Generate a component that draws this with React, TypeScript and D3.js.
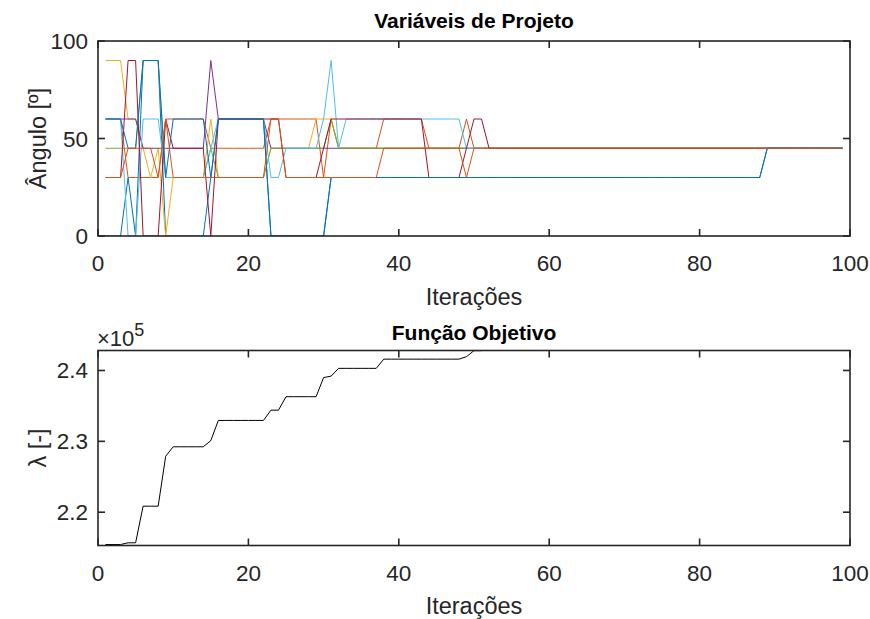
import React from "react";
import * as d3 from "d3";

// Iterations 1..99
const iterations: number[] = Array.from({ length: 99 }, (_, i) => i + 1);

// Design variables (angles, deg) as change points [iteration, value]
const varBlue1: [number, number][] = [[1, 0], [4, 30], [5, 0], [6, 90], [9, 0], [15, 30], [16, 60], [23, 0], [31, 30], [89, 45]];
const varOrange1: [number, number][] = [[1, 60], [4, 30], [9, 60], [15, 45], [23, 60], [30, 30], [31, 60], [32, 45], [38, 60], [44, 45], [49, 60], [50, 45]];
const varYellow1: [number, number][] = [[1, 90], [4, 60], [6, 45], [7, 30], [8, 45], [9, 0], [10, 30], [15, 60], [16, 30], [23, 45], [29, 60], [32, 45]];
const varPurple1: [number, number][] = [[1, 60], [6, 45], [15, 90], [16, 60], [23, 45]];
const varGreen1: [number, number][] = [[1, 45], [6, 90], [9, 30], [15, 45], [16, 30], [23, 45], [31, 60], [32, 45]];
const varLightBlue1: [number, number][] = [[1, 60], [4, 0], [6, 60], [9, 30], [15, 45], [16, 60], [23, 30], [25, 45], [30, 60], [31, 90], [32, 45], [33, 60], [49, 45]];
const varDarkRed1: [number, number][] = [[1, 30], [4, 90], [6, 0], [9, 60], [10, 45], [15, 0], [16, 60], [25, 30], [30, 45], [31, 60], [44, 30], [49, 45], [50, 60], [52, 45]];
const varBlue2: [number, number][] = [[1, 60], [4, 45], [6, 90], [9, 30], [10, 60], [15, 30], [16, 60], [23, 0], [31, 30], [89, 45]];
const varOrange2: [number, number][] = [[1, 30], [4, 45], [8, 30], [9, 60], [10, 30], [23, 60], [25, 30], [38, 45], [49, 30], [50, 45]];

const seriesSteps = [varBlue1, varOrange1, varYellow1, varPurple1, varGreen1, varLightBlue1, varDarkRed1, varBlue2, varOrange2];
const seriesColors = ["#0072BD", "#D95319", "#EDB120", "#7E2F8E", "#77AC30", "#4DBEEE", "#A2142F"];

// Objective function λ (×1e5) as change points [iteration, value]
const lambdaSteps: [number, number][] = [[1, 2.1544], [4, 2.1568], [6, 2.2085], [9, 2.279], [10, 2.2923], [15, 2.301], [16, 2.3295],
  [23, 2.344], [25, 2.363], [30, 2.390], [31, 2.392], [32, 2.403], [38, 2.416], [49, 2.4195], [50, 2.428], [52, 2.44]];

const xTicks = [0, 20, 40, 60, 80, 100];
const yTicksTop = [0, 50, 100];
const yTicksBot = [2.2, 2.3, 2.4];

function expand(steps: [number, number][]): number[] {
  return iterations.map((it) => {
    let v = steps[0][1];
    for (const [s, val] of steps) if (s <= it) v = val;
    return v;
  });
}

const FONT = "'Liberation Sans', Arial, Helvetica, sans-serif";
const AX = "#262626";
const L = 98, R = 850;

export default function App() {
  const x = d3.scaleLinear().domain([0, 100]).range([L, R]);
  const yTop = d3.scaleLinear().domain([0, 100]).range([236, 41]);
  const yBot = d3.scaleLinear().domain([2.153, 2.4282]).range([545.5, 350.5]);

  const lineTop = d3.line<number>().x((_, i) => x(iterations[i])).y((d) => yTop(d));
  const lineBot = d3.line<number>().x((_, i) => x(iterations[i])).y((d) => yBot(d));

  const tk = 7;
  const tickFs = 22.5;
  const labFs = 23.5;
  const titleFs = 21;

  const axesFrame = (y0: number, y1: number, yScale: any, yTicks: number[], fmt: (v: number) => string) => (
    <g>
      <rect x={L} y={y1} width={R - L} height={y0 - y1} fill="none" stroke={AX} strokeWidth={1.6} />
      {xTicks.map((t) => (
        <g key={"x" + t}>
          <line x1={x(t)} x2={x(t)} y1={y0} y2={y0 - tk} stroke={AX} strokeWidth={1.6} />
          <line x1={x(t)} x2={x(t)} y1={y1} y2={y1 + tk} stroke={AX} strokeWidth={1.6} />
          <text x={x(t)} y={y0 + 35} textAnchor="middle" fontSize={tickFs} fill={AX} fontFamily={FONT}>{t}</text>
        </g>
      ))}
      {yTicks.map((t) => (
        <g key={"y" + t}>
          <line x1={L} x2={L + tk} y1={yScale(t)} y2={yScale(t)} stroke={AX} strokeWidth={1.6} />
          <line x1={R} x2={R - tk} y1={yScale(t)} y2={yScale(t)} stroke={AX} strokeWidth={1.6} />
          <text x={L - 10} y={yScale(t) + 8} textAnchor="end" fontSize={tickFs} fill={AX} fontFamily={FONT}>{fmt(t)}</text>
        </g>
      ))}
    </g>
  );

  return (
    <svg width={870} height={619} style={{ position: "absolute", left: 0, top: 0, background: "#fff" }}>
      <defs>
        <clipPath id="clipTop"><rect x={L} y={41} width={R - L} height={195} /></clipPath>
        <clipPath id="clipBot"><rect x={L} y={350.5} width={R - L} height={195} /></clipPath>
      </defs>
      <rect x={0} y={0} width={870} height={619} fill="#fff" />

      {/* Top chart */}
      <g clipPath="url(#clipTop)">
        {seriesSteps.map((s, i) => (
          <path key={i} d={lineTop(expand(s)) || ""} fill="none" stroke={seriesColors[i % 7]} strokeWidth={1} />
        ))}
      </g>
      {axesFrame(236, 41, yTop, yTicksTop, (v) => String(v))}
      <text x={474} y={28} textAnchor="middle" fontSize={titleFs} fontWeight="bold" fill="#000" fontFamily={FONT}>Variáveis de Projeto</text>
      <text x={474} y={305} textAnchor="middle" fontSize={labFs} fill={AX} fontFamily={FONT}>Iterações</text>
      <text transform={`translate(46,${(41 + 236) / 2}) rotate(-90)`} textAnchor="middle" fontSize={labFs} fill={AX} fontFamily={FONT}>Ângulo [º]</text>

      {/* Bottom chart */}
      <g clipPath="url(#clipBot)">
        <path d={lineBot(expand(lambdaSteps)) || ""} fill="none" stroke="#000" strokeWidth={1} />
      </g>
      {axesFrame(545.5, 350.5, yBot, yTicksBot, (v) => v.toFixed(1))}
      <text x={474} y={340} textAnchor="middle" fontSize={titleFs} fontWeight="bold" fill="#000" fontFamily={FONT}>Função Objetivo</text>
      <text x={97} y={346} fontSize={22} fill={AX} fontFamily={FONT}>×10<tspan dy={-10} fontSize={18}>5</tspan></text>
      <text x={474} y={614} textAnchor="middle" fontSize={labFs} fill={AX} fontFamily={FONT}>Iterações</text>
      <text transform={`translate(46,${(350.5 + 545.5) / 2}) rotate(-90)`} textAnchor="middle" fontSize={labFs} fill={AX} fontFamily={FONT}>λ [-]</text>
    </svg>
  );
}
